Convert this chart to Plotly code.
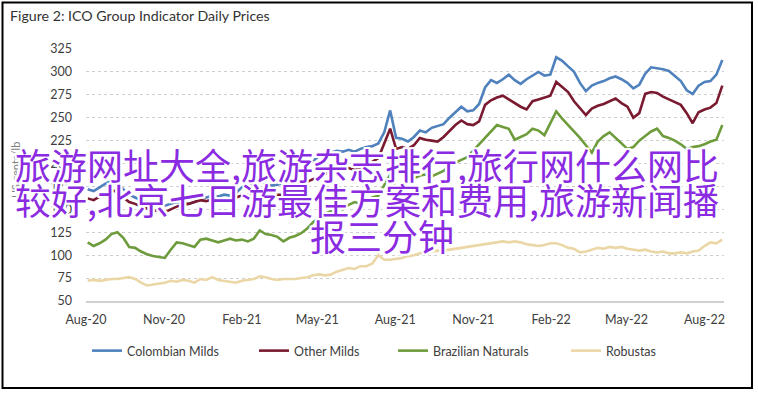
import pandas as pd
import plotly.graph_objects as go

# ---- data (weekly readings, cents/lb) ----
dates = pd.date_range("2020-08-03", periods=108, freq="7D")

colombian_milds = [172, 170, 174, 178, 181, 179, 172, 166, 163, 160,
                   158, 156, 155, 154, 156, 158, 157, 156, 158, 161,
                   163, 165, 164, 166, 165, 168, 174, 177, 178, 181,
                   178, 176, 177, 179, 186, 189, 191, 196, 203, 208,
                   206, 212, 214, 213, 215, 213, 216, 218, 219, 222,
                   234, 258, 228, 227, 224, 229, 236, 234, 239, 241,
                   243, 250, 256, 262, 257, 258, 265, 283, 291, 288,
                   292, 297, 291, 287, 292, 296, 300, 296, 297, 316,
                   312, 306, 300, 288, 279, 285, 288, 290, 293, 295,
                   292, 288, 282, 286, 298, 305, 304, 303, 301, 296,
                   290, 280, 276, 285, 289, 290, 297, 313]

other_milds = [162, 160, 164, 168, 171, 169, 163, 158, 156, 153,
               151, 149, 148, 147, 150, 153, 155, 156, 158, 160,
               159, 161, 160, 159, 160, 163, 165, 166, 167, 170,
               167, 165, 166, 166, 168, 173, 176, 180, 183, 186,
               188, 194, 199, 197, 195, 193, 194, 198, 202, 206,
               222, 238, 216, 218, 216, 220, 228, 226, 225, 224,
               229, 236, 242, 247, 243, 242, 246, 264, 269, 272,
               274, 270, 266, 262, 259, 268, 270, 272, 274, 289,
               284, 278, 268, 260, 253, 260, 263, 265, 268, 271,
               266, 262, 250, 255, 276, 278, 277, 273, 270, 267,
               264, 255, 244, 256, 259, 261, 266, 285]

brazilian_naturals = [114, 110, 113, 117, 123, 125, 119, 109, 108, 104,
                      101, 99, 98, 97, 106, 114, 113, 111, 109, 117,
                      118, 116, 114, 116, 118, 116, 117, 115, 118, 127,
                      123, 122, 120, 115, 119, 121, 124, 129, 136, 141,
                      145, 148, 152, 150, 155, 158, 156, 160, 163, 165,
                      176, 188, 172, 176, 180, 184, 187, 188, 186, 189,
                      192, 197, 201, 204, 207, 214, 221, 228, 236, 242,
                      240, 238, 226, 229, 232, 238, 236, 231, 244, 257,
                      249, 242, 236, 228, 220, 212, 224, 230, 234, 228,
                      222, 216, 218, 225, 230, 235, 238, 230, 228, 225,
                      221, 216, 218, 219, 221, 224, 226, 242]

robustas = [72, 73, 72, 73, 74, 74, 75, 76, 74, 70,
            67, 68, 69, 70, 72, 71, 73, 72, 70, 74,
            73, 76, 73, 72, 71, 70, 72, 73, 74, 77,
            76, 74, 73, 74, 74, 74, 75, 76, 78, 79,
            78, 79, 82, 84, 86, 85, 88, 88, 91, 100,
            95, 95, 96, 97, 99, 100, 102, 103, 104, 105,
            105, 106, 107, 108, 109, 110, 111, 112, 113, 114,
            115, 114, 115, 114, 112, 111, 110, 111, 113, 113,
            111, 108, 107, 103, 104, 106, 108, 107, 109, 108,
            109, 107, 106, 105, 106, 104, 103, 104, 102, 102,
            103, 102, 104, 105, 110, 114, 113, 117]

series_names = ["Colombian Milds", "Other Milds", "Brazilian Naturals", "Robustas"]
series_values = [colombian_milds, other_milds, brazilian_naturals, robustas]
series_colors = ["#4F81BD", "#7A1A30", "#6E9C3C", "#EBD6A6"]

y_ticks = [50, 75, 100, 125, 150, 175, 200, 225, 250, 275, 300, 325]

title_text = "Figure 2: ICO Group Indicator Daily Prices"
y_title = "US cents/lb"
overlay_lines = ["旅游网址大全,旅游杂志排行,旅行网什么网比",
                 "较好,北京七日游最佳方案和费用,旅游新闻播",
                 "报三分钟"]

# ---- layout geometry (pixels) ----
W, H = 758, 393
L, R, T, B = 86, 34, 49, 92
PW, PH = W - L - R, H - T - B


def px(x):
    return (x - L) / PW


def py(y):
    return (H - B - y) / PH


BASE_FONT = "Lato, 'Open Sans', sans-serif"

fig = go.Figure()
legend_ids = ["legend", "legend2", "legend3", "legend4"]
legend_x = [87, 254, 393, 566]
for name, vals, col, lg in zip(series_names, series_values, series_colors, legend_ids):
    fig.add_trace(go.Scatter(x=dates, y=vals, mode="lines", name=name,
                             line=dict(color=col, width=2.6), legend=lg,
                             hoverinfo="skip"))

legend_common = dict(orientation="h", xanchor="left", yanchor="middle",
                     bgcolor="rgba(0,0,0,0)", borderwidth=0,
                     font=dict(family=BASE_FONT, size=12.5, color="#404040"))
leg_layout = {}
for lg, lx in zip(legend_ids, legend_x):
    leg_layout[lg] = dict(x=px(lx), y=py(351), **legend_common)

fig.update_layout(
    width=W, height=H,
    margin=dict(l=L, r=R, t=T, b=B, pad=0),
    paper_bgcolor="white", plot_bgcolor="white",
    showlegend=True,
    xaxis=dict(range=["2020-08-01", "2022-08-24"], tickformat="%b-%y",
               dtick="M3", tick0="2020-08-01", showgrid=False,
               showline=True, linecolor="#D0D0D0", linewidth=1.5,
               ticks="", ticklabelstandoff=6, zeroline=False,
               tickfont=dict(family=BASE_FONT, size=12.5, color="#404040")),
    yaxis=dict(range=[50, 325], tickvals=y_ticks, showgrid=True,
               gridcolor="#CFCFCF", griddash="dot", gridwidth=1,
               zeroline=False, showline=False, ticks="",
               ticklabelstandoff=13,
               tickfont=dict(family=BASE_FONT, size=12.5, color="#404040")),
    **leg_layout,
)

annotations = [
    dict(text=title_text, xref="paper", yref="paper", x=px(8), y=py(15),
         xanchor="left", yanchor="middle", showarrow=False,
         font=dict(family=BASE_FONT, size=14.2, color="#333333")),
    dict(text=y_title, xref="paper", yref="paper", x=px(15), y=py(170),
         xanchor="center", yanchor="middle", showarrow=False, textangle=-90,
         font=dict(family=BASE_FONT, size=11, color="#7F7F7F")),
]

outline = ", ".join(f"{dx}px {dy}px 0 #ffffff" for dx, dy in
                    [(2, 0), (-2, 0), (0, 2), (0, -2), (2, 2), (-2, -2), (2, -2), (-2, 2)])
line_pos = [(13, 164), (13, 199), (308, 235)]
for txt, (lx, ly) in zip(overlay_lines, line_pos):
    annotations.append(dict(
        text=txt, xref="paper", yref="paper", x=px(lx), y=py(ly),
        xanchor="left", yanchor="middle", showarrow=False,
        font=dict(family="'Noto Sans CJK SC', sans-serif", size=36,
                  color="#8A2BE2", shadow=outline)))
fig.update_layout(annotations=annotations)

# outer frame
fig.add_shape(type="rect", xref="paper", yref="paper",
              x0=px(2.5), x1=px(752), y0=py(388), y1=py(2.5),
              line=dict(color="#000000", width=2), fillcolor="rgba(0,0,0,0)",
              layer="above")

fig.write_html("out.html", include_plotlyjs=True,
               config={"displayModeBar": False},
               post_script="document.body.style.margin='0px';")
